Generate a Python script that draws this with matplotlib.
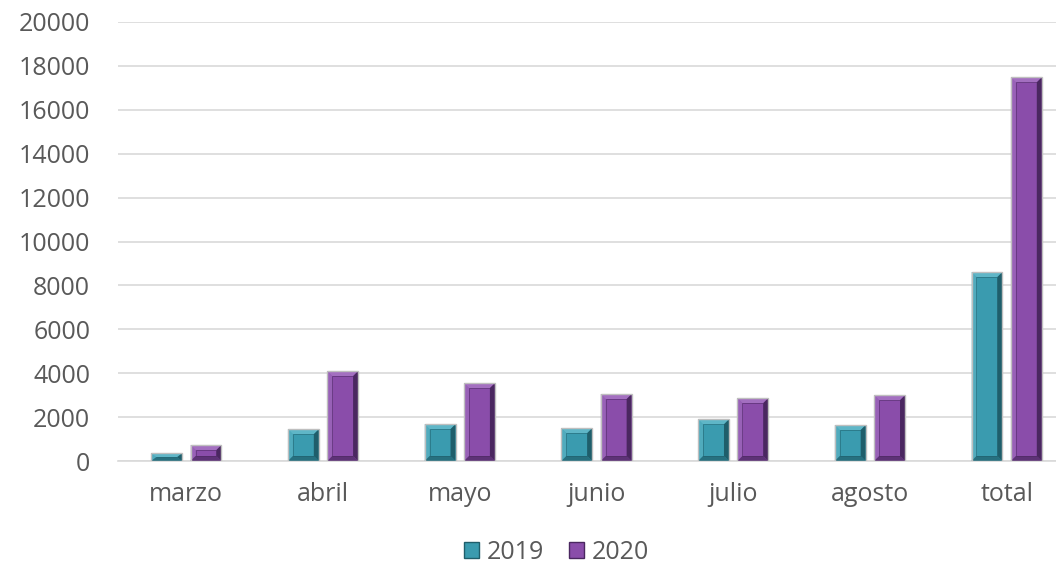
import numpy as np
import matplotlib.pyplot as plt
from matplotlib.patches import Polygon, Rectangle

# datos
meses = ['marzo', 'abril', 'mayo', 'junio', 'julio', 'agosto', 'total']
v2019 = [350, 1450, 1680, 1500, 1900, 1640, 8610]
v2020 = [730, 4100, 3550, 3050, 2870, 3000, 17480]
series = ['2019', '2020']
colores = ['#3A9BAF', '#8A4DAA']
claros = ['#5FB6C7', '#A36FC0']
oscuros = ['#1F5E6B', '#4A2760']

plt.rcParams['font.family'] = ['Open Sans', 'DejaVu Sans']
fig = plt.figure(figsize=(10.56, 5.64), dpi=100)
ax = fig.add_axes([0.1117, 0.1826, 0.9063, 0.7784])

x = np.arange(len(meses))
ancho = 0.226
desp = 0.144
ax.set_xlim(-0.5, len(meses) - 0.5)
ax.set_ylim(0, 20000)

# bisel aproximado, ~5 px
bx = 5 / 137.0
by = 5 / 0.02195

def barra_bisel(xc, h, i):
    x0, x1 = xc - ancho / 2, xc + ancho / 2
    dx = bx
    dy = min(by, h / 2)
    ax.add_patch(Rectangle((x0, 0), ancho, h, facecolor=colores[i],
                           edgecolor='none', zorder=3))
    xi0, xi1, yi0, yi1 = x0 + dx, x1 - dx, dy, h - dy
    # arriba
    ax.add_patch(Polygon([(x0, h), (x1, h), (xi1, yi1), (xi0, yi1)],
                         facecolor=claros[i], edgecolor='none', zorder=4))
    # izquierda
    ax.add_patch(Polygon([(x0, 0), (x0, h), (xi0, yi1), (xi0, yi0)],
                         facecolor=claros[i], edgecolor='none', alpha=0.6, zorder=4))
    # derecha
    ax.add_patch(Polygon([(x1, 0), (x1, h), (xi1, yi1), (xi1, yi0)],
                         facecolor=oscuros[i], edgecolor='none', zorder=4))
    # abajo
    ax.add_patch(Polygon([(x0, 0), (x1, 0), (xi1, yi0), (xi0, yi0)],
                         facecolor=oscuros[i], edgecolor='none', alpha=0.7, zorder=4))
    # cara interior
    ax.add_patch(Rectangle((xi0, yi0), xi1 - xi0, yi1 - yi0, facecolor='none',
                           edgecolor=oscuros[i], linewidth=0.6, alpha=0.6, zorder=5))
    ax.add_patch(Rectangle((x0, 0), ancho, h, facecolor='none',
                           edgecolor='#BFBFBF', linewidth=1.0, zorder=5))

for i, vals in enumerate([v2019, v2020]):
    for xc, h in zip(x + (i * 2 - 1) * desp, vals):
        barra_bisel(xc, h, i)

ax.set_yticks(np.arange(0, 20001, 2000))
ax.set_xticks(x)
ax.set_xticklabels(meses)
ax.yaxis.grid(True, color='#D9D9D9', linewidth=1.2)
ax.set_axisbelow(True)
for s in ['top', 'right', 'left']:
    ax.spines[s].set_visible(False)
ax.spines['bottom'].set_color('#D9D9D9')
ax.spines['bottom'].set_linewidth(1.2)
ax.tick_params(length=0, labelsize=18, colors='#595959')
ax.tick_params(axis='x', pad=15)
ax.tick_params(axis='y', pad=20)

# leyenda
handles = [Rectangle((0, 0), 1, 1, facecolor=colores[i], edgecolor=oscuros[i]) for i in range(2)]
fig.legend(handles, series, loc='center', bbox_to_anchor=(0.527, 0.02), ncol=2,
           frameon=False, fontsize=18, handlelength=0.6, handleheight=0.6,
           handletextpad=0.3, columnspacing=1.0, labelcolor='#595959')

fig.savefig('out.png', dpi=100)
